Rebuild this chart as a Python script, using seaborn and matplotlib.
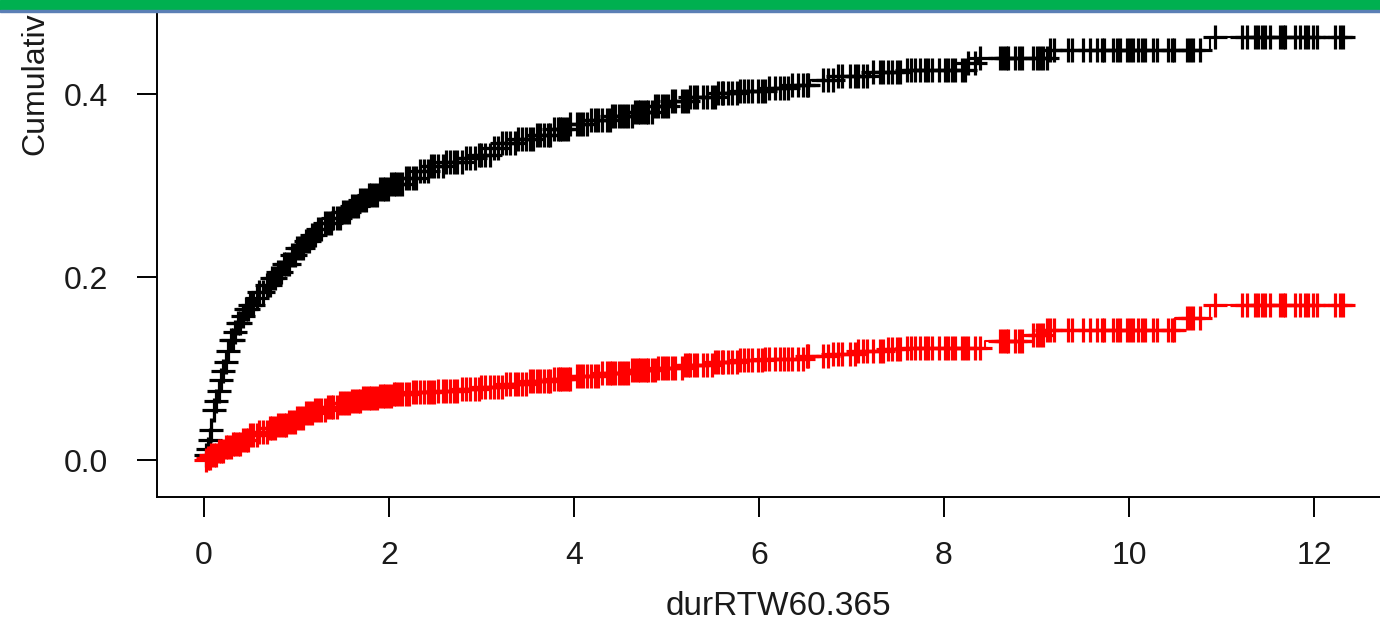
import numpy as np
import pandas as pd
import matplotlib
matplotlib.use("Agg")
import matplotlib.pyplot as plt
import seaborn as sns
from matplotlib.patches import Rectangle

# step curves: time of each step and cumulative incidence after it
black_times = [0.0, 0.01, 0.03, 0.05, 0.07, 0.09, 0.11, 0.13, 0.15, 0.17, 0.19, 0.22, 0.25,
               0.28, 0.32, 0.36, 0.40, 0.45, 0.50, 0.55, 0.60, 0.66, 0.72, 0.78, 0.86, 0.93,
               1.00, 1.08, 1.15, 1.23, 1.31, 1.40, 1.48, 1.58, 1.68, 1.78, 1.90, 2.02, 2.15,
               2.30, 2.45, 2.62, 2.80, 2.95, 3.10, 3.22, 3.40, 3.60, 3.78, 3.95, 4.15, 4.40,
               4.65, 4.85, 5.05, 5.25, 5.55, 5.80, 6.10, 6.35, 6.55, 6.85, 7.20, 7.60, 8.25,
               8.37, 9.15, 10.88, 12.42]
black_cuminc = [0.0, 0.005, 0.012, 0.022, 0.033, 0.043, 0.055, 0.065, 0.075, 0.087, 0.097,
                0.107, 0.119, 0.131, 0.140, 0.150, 0.158, 0.165, 0.170, 0.177, 0.184, 0.191,
                0.199, 0.206, 0.214, 0.224, 0.232, 0.240, 0.246, 0.253, 0.259, 0.265, 0.271,
                0.278, 0.284, 0.290, 0.296, 0.302, 0.308, 0.316, 0.322, 0.326, 0.330, 0.334,
                0.341, 0.347, 0.351, 0.355, 0.362, 0.367, 0.372, 0.376, 0.380, 0.387, 0.393,
                0.397, 0.401, 0.404, 0.407, 0.410, 0.416, 0.420, 0.424, 0.427, 0.434, 0.440,
                0.448, 0.463, 0.463]

red_times = [0.0, 0.03, 0.08, 0.15, 0.22, 0.30, 0.40, 0.50, 0.60, 0.70, 0.80, 0.90, 1.00,
             1.10, 1.20, 1.32, 1.45, 1.58, 1.72, 1.88, 2.05, 2.25, 2.50, 2.75, 3.00, 3.25,
             3.50, 3.75, 4.00, 4.30, 4.60, 4.90, 5.20, 5.50, 5.80, 6.05, 6.50, 6.80, 7.05,
             7.35, 7.60, 8.44, 8.96, 9.10, 10.50, 10.88, 12.42]
red_cuminc = [0.0, 0.002, 0.005, 0.010, 0.014, 0.018, 0.022, 0.027, 0.031, 0.035, 0.038,
              0.042, 0.046, 0.051, 0.055, 0.058, 0.062, 0.065, 0.068, 0.070, 0.072, 0.074,
              0.076, 0.078, 0.080, 0.083, 0.086, 0.089, 0.092, 0.095, 0.098, 0.101, 0.104,
              0.107, 0.109, 0.111, 0.114, 0.116, 0.119, 0.121, 0.123, 0.130, 0.137, 0.142,
              0.155, 0.170, 0.170]

# censoring times (shared by both curves)
censor_times = [
    0.02, 0.04, 0.06, 0.08, 0.11, 0.13, 0.16, 0.18, 0.21, 0.24, 0.26, 0.29, 0.31, 0.34,
    0.37, 0.39, 0.42, 0.45, 0.48, 0.50, 0.53, 0.57, 0.60, 0.64, 0.68, 0.71, 0.74, 0.77,
    0.80, 0.83, 0.86, 0.89, 0.92, 0.95, 0.98, 1.01, 1.04, 1.07, 1.10, 1.13, 1.17, 1.20,
    1.23, 1.27, 1.31, 1.34, 1.37, 1.40, 1.44, 1.47, 1.50, 1.53, 1.57, 1.60, 1.63, 1.66,
    1.69, 1.72, 1.75, 1.78, 1.81, 1.84, 1.87, 1.90, 1.93, 1.96, 1.99, 2.02, 2.05, 2.08,
    2.11, 2.14, 2.18, 2.22, 2.26, 2.29, 2.33, 2.38, 2.42, 2.45, 2.49, 2.53, 2.58, 2.62,
    2.66, 2.70, 2.74, 2.79, 2.83, 2.88, 2.93, 2.97, 3.00, 3.04, 3.09, 3.13, 3.18, 3.22,
    3.27, 3.31, 3.36, 3.40, 3.44, 3.48, 3.52, 3.56, 3.60, 3.63, 3.68, 3.72, 3.74, 3.78,
    3.83, 3.85, 3.87, 3.90, 3.94, 3.96, 4.03, 4.06, 4.10, 4.14, 4.18, 4.23, 4.26, 4.30,
    4.36, 4.39, 4.41, 4.44, 4.49, 4.52, 4.55, 4.58, 4.63, 4.66, 4.69, 4.71, 4.75, 4.78,
    4.80, 4.84, 4.88, 4.91, 4.95, 4.98, 5.02, 5.06, 5.09, 5.17, 5.20, 5.23, 5.25, 5.30,
    5.33, 5.39, 5.44, 5.49, 5.52, 5.56, 5.60, 5.61, 5.66, 5.71, 5.76, 5.80, 5.84, 5.88,
    5.92, 5.99, 6.03, 6.07, 6.11, 6.17, 6.23, 6.27, 6.31, 6.36, 6.42, 6.48, 6.52, 6.53,
    6.69, 6.75, 6.80, 6.85, 6.90, 6.98, 7.04, 7.07, 7.12, 7.17, 7.23, 7.31, 7.34, 7.39,
    7.44, 7.49, 7.52, 7.60, 7.64, 7.69, 7.74, 7.79, 7.83, 7.87, 7.95, 8.01, 8.04, 8.09,
    8.12, 8.19, 8.23, 8.26, 8.34, 8.39, 8.61, 8.64, 8.67, 8.69, 8.77, 8.81, 8.84, 8.96,
    9.01, 9.04, 9.07, 9.11, 9.15, 9.19, 9.34, 9.38, 9.50, 9.58, 9.65, 9.71, 9.73, 9.83,
    9.87, 9.90, 9.98, 10.01, 10.04, 10.10, 10.14, 10.17, 10.26, 10.30, 10.42, 10.46,
    10.49, 10.63, 10.66, 10.69, 10.77, 10.93, 11.22, 11.28, 11.36, 11.40, 11.44, 11.47,
    11.52, 11.63, 11.66, 11.69, 11.79, 11.85, 11.90, 11.94, 11.99, 12.03, 12.23, 12.28,
    12.31,
]

x_ticks = [0, 2, 4, 6, 8, 10, 12]
y_ticks = [0.0, 0.2, 0.4]
x_label = "durRTW60.365"
y_label = "Cumulativ"  # the screenshot cuts the rest of the label off


def value_at(times, values, t):
    # step function lookup (right-continuous)
    idx = np.searchsorted(times, t, side="right") - 1
    return np.asarray(values)[idx]


sns.set_style("ticks")
plt.rcParams["font.family"] = ["Liberation Sans", "DejaVu Sans"]

fig = plt.figure(figsize=(13.8, 6.28), dpi=100)
ax = fig.add_axes([157 / 1380, 131 / 628, (1400 - 157) / 1380, 497 / 628])

curves = [(black_times, black_cuminc, "black"), (red_times, red_cuminc, "#ff0000")]
for times, cuminc, col in curves:
    df = pd.DataFrame({"time": times, "cuminc": cuminc})
    sns.lineplot(data=df, x="time", y="cuminc", drawstyle="steps-post", color=col,
                 linewidth=1.5, ax=ax, estimator=None, sort=False)
    marks = pd.DataFrame({"time": censor_times,
                          "cuminc": value_at(times, cuminc, np.array(censor_times))})
    sns.scatterplot(data=marks, x="time", y="cuminc", marker="+", s=290, color=col,
                    linewidth=2.3, ax=ax, zorder=3)

ax.set_xlim(-0.508, 12.93)
ax.set_ylim(-0.0404, 0.503)
ax.set_xticks(x_ticks)
ax.set_xticklabels([str(t) for t in x_ticks])
ax.set_yticks(y_ticks)
ax.set_yticklabels([f"{t:.1f}" for t in y_ticks])
ax.tick_params(axis="both", labelsize=23, length=14.4, width=1.4, color="black",
               labelcolor="#1a1a1a", direction="out")
ax.tick_params(axis="x", pad=17)
ax.tick_params(axis="y", pad=21)
ax.set_xlabel(x_label, fontsize=24, color="#1a1a1a", labelpad=15)
ax.set_ylabel("")
for side in ["top", "right"]:
    ax.spines[side].set_visible(False)
for side in ["left", "bottom"]:
    ax.spines[side].set_linewidth(1.4)
    ax.spines[side].set_color("black")

# rotated y label, cropped by the top of the picture
fig.text(35 / 1380, 1 - 155 / 628, y_label, rotation=90, ha="center", va="bottom",
         fontsize=23, color="#1a1a1a")

# green header band of the screenshot
fig.patches.append(Rectangle((0, 1 - 10 / 628), 1, 10 / 628, transform=fig.transFigure,
                             color="#00b050", zorder=10))
fig.patches.append(Rectangle((0, 1 - 12 / 628), 1, 2 / 628, transform=fig.transFigure,
                             color="#5b7fb5", zorder=10))

fig.savefig("out.png", dpi=100)
